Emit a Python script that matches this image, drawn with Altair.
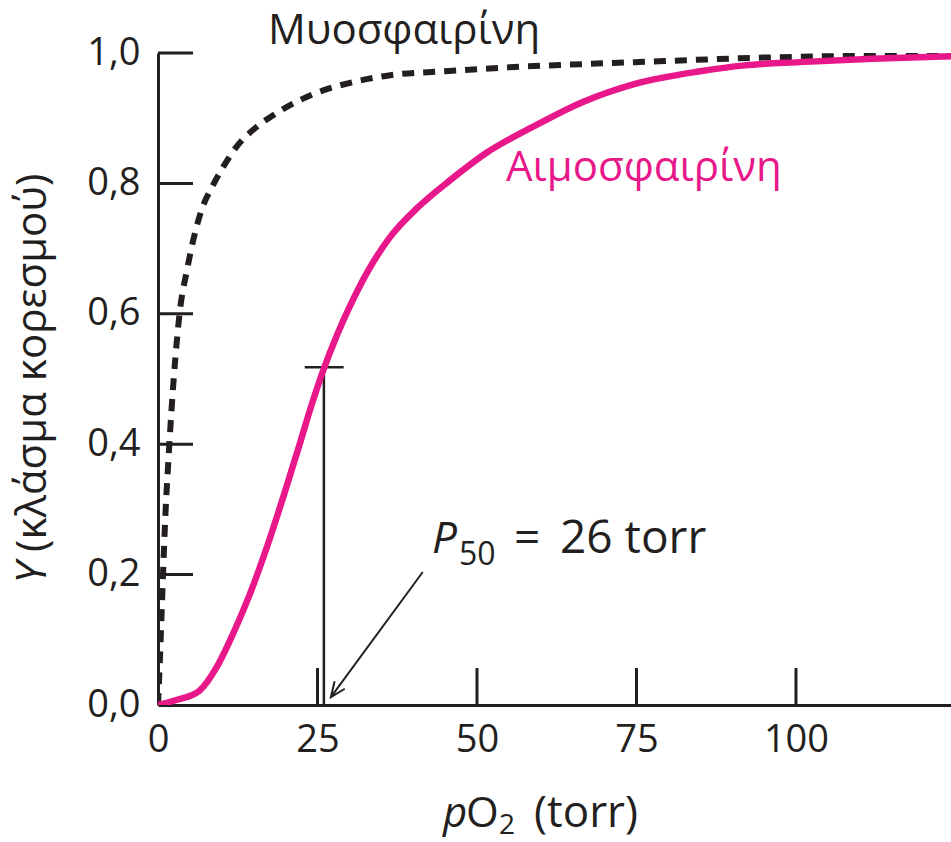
import altair as alt
import pandas as pd

# ---------------- data ----------------
# Myoglobin (dashed black)
mb_p = [0, 0.3, 0.6, 0.9, 1.2, 1.6, 2.1, 2.7, 3.5, 4.5, 5.5, 7.0, 8.5, 10.2, 12.3,
        15.5, 18.6, 22.3, 26.0, 30.0, 36.4, 45.0, 55.0, 75.0, 95.0, 124.3]
mb_y = [0, 0.07, 0.15, 0.23, 0.30, 0.37, 0.45, 0.53, 0.61, 0.665, 0.712, 0.764, 0.795,
        0.825, 0.856, 0.887, 0.908, 0.928, 0.943, 0.954, 0.966, 0.972, 0.978, 0.986,
        0.993, 0.997]
# Hemoglobin (magenta)
hb_p = [0, 3.0, 6.5, 9.2, 11.8, 14.4, 17.1, 19.6, 22.3, 24.0, 26.0, 28.0, 30.1, 32.7,
        36.4, 40.6, 45.8, 51.5, 58.8, 66.6, 74.5, 85.0, 92.0, 100.6, 112.0, 124.3]
hb_y = [0, 0.008, 0.022, 0.058, 0.11, 0.17, 0.243, 0.318, 0.403, 0.458, 0.516, 0.566,
        0.612, 0.662, 0.718, 0.762, 0.805, 0.847, 0.887, 0.925, 0.952, 0.972, 0.981,
        0.986, 0.991, 0.995]

x_ticks = [25, 50, 75, 100]
x_labels = [0, 25, 50, 75, 100]
y_ticks = [0.2, 0.4, 0.6, 0.8, 1.0]
y_labels = [0.0, 0.2, 0.4, 0.6, 0.8, 1.0]

p50 = 26
p50_y = 0.518
p50_cap = [23.0, 29.1]
arrow_from = [41.5, 0.204]
arrow_to = [27.1, 0.012]

label_mb = "Μυοσφαιρίνη"
label_hb = "Αιμοσφαιρίνη"
y_title_a = "Y"
y_title_b = "(κλάσμα κορεσμού)"

# ---------------- styling ----------------
W, H = 793, 652
INK = "#231f20"
PINK = "#e8178a"
FONT = "Open Sans"

xs = alt.Scale(domain=[0, 124.3], nice=False, zero=False)
ys = alt.Scale(domain=[0, 1], nice=False)

x_axis = alt.Axis(values=x_labels, ticks=False, grid=False, title=None,
                  labelFontSize=38, labelFont=FONT, labelColor=INK, labelPadding=16,
                  labelFlush=False, domainColor=INK, domainWidth=3, format="d")
y_axis = alt.Axis(values=y_labels, ticks=False, grid=False, title=None,
                  labelFontSize=38, labelFont=FONT, labelColor=INK, labelPadding=18,
                  labelFlush=False, domainColor=INK, domainWidth=3,
                  labelExpr="replace(format(datum.value, '.1f'), '.', ',')")

X = lambda f="p": alt.X(f"{f}:Q", scale=xs, axis=x_axis)
Y = lambda f="Y": alt.Y(f"{f}:Q", scale=ys, axis=y_axis)

mb_df = pd.DataFrame({"p": mb_p, "Y": mb_y})
hb_df = pd.DataFrame({"p": hb_p, "Y": hb_y})

mb_line = alt.Chart(mb_df).mark_line(
    color=INK, strokeWidth=6, strokeDash=[12, 9], strokeCap="butt",
    interpolate="monotone", clip=True
).encode(x=X(), y=Y())

hb_line = alt.Chart(hb_df).mark_line(
    color=PINK, strokeWidth=6.5, interpolate="monotone", clip=True
).encode(x=X(), y=Y())

# inward ticks
ytick_rules = alt.Chart(pd.DataFrame({"Y": y_ticks})).mark_rule(
    color=INK, strokeWidth=3
).encode(y=Y(), x=alt.value(0), x2=alt.value(35))

xtick_rules = alt.Chart(pd.DataFrame({"p": x_ticks})).mark_rule(
    color=INK, strokeWidth=3
).encode(x=X(), y=alt.value(H - 37), y2=alt.value(H))

# P50 marker
ann = pd.DataFrame({"p": [p50], "Y": [p50_y], "y0": [0.0],
                    "plo": [p50_cap[0]], "phi": [p50_cap[1]]})
p50_vert = alt.Chart(ann).mark_rule(color=INK, strokeWidth=2.5).encode(
    x=X(), y=Y(), y2="y0:Q")
p50_cap_rule = alt.Chart(ann).mark_rule(color=INK, strokeWidth=2.5).encode(
    x=X("plo"), x2="phi:Q", y=Y())

arr = pd.DataFrame({"p": [arrow_from[0]], "Y": [arrow_from[1]],
                    "p2": [arrow_to[0]], "Y2": [arrow_to[1]]})
arrow_shaft = alt.Chart(arr).mark_rule(color=INK, strokeWidth=2).encode(
    x=X(), y=Y(), x2="p2:Q", y2="Y2:Q")
arrow_head = alt.Chart(pd.DataFrame({"p": [arrow_to[0]], "Y": [arrow_to[1]]})).mark_point(
    shape="M-0.42,1L0,0L0.42,1", filled=False, stroke=INK, strokeWidth=2,
    size=900, angle=216, opacity=1
).encode(x=X(), y=Y())


def txt(s, x, y, size, color=INK, italic=False, align="left", angle=0, baseline="alphabetic"):
    kw = dict(font=FONT, fontSize=size, color=color, align=align, baseline=baseline)
    if italic:
        kw["fontStyle"] = "italic"
    if angle:
        kw["angle"] = angle
    return alt.Chart(pd.DataFrame({"t": [s]})).mark_text(**kw).encode(
        text="t:N", x=alt.value(x), y=alt.value(y))


texts = [
    txt(label_mb, 268 - 158, 44 - 53, 42),
    txt(label_hb, 506 - 158, 181 - 53, 42, color=PINK),
    txt("P", 432 - 158, 553 - 53, 44, italic=True),
    txt("50", 459 - 158, 565 - 53, 32),
    txt("=", 514 - 158, 553 - 53, 46),
    txt("26 torr", 560 - 158, 553 - 53, 46),
    # x title
    txt("p", 443 - 158, 827 - 53, 42, italic=True),
    txt("O", 466 - 158, 827 - 53, 42),
    txt("2", 499 - 158, 834 - 53, 28),
    txt("(torr)", 534 - 158, 827 - 53, 44),
    # y title (rotated)
    txt(y_title_a, 46 - 158, 562 - 53, 42, italic=True, align="right", angle=270),
    txt(y_title_b, 46 - 158, 552 - 53, 42, align="left", angle=270),
]

chart = alt.layer(
    ytick_rules, xtick_rules, p50_vert, p50_cap_rule, arrow_shaft, arrow_head,
    mb_line, hb_line, *texts
).properties(
    width=W, height=H,
    autosize=alt.AutoSizeParams(type="none"),
    padding={"left": 158, "top": 53, "right": 0, "bottom": 137},
    background="white",
).configure_view(stroke=None)

chart.save("out.html", embed_options={"renderer": "svg", "actions": False})
